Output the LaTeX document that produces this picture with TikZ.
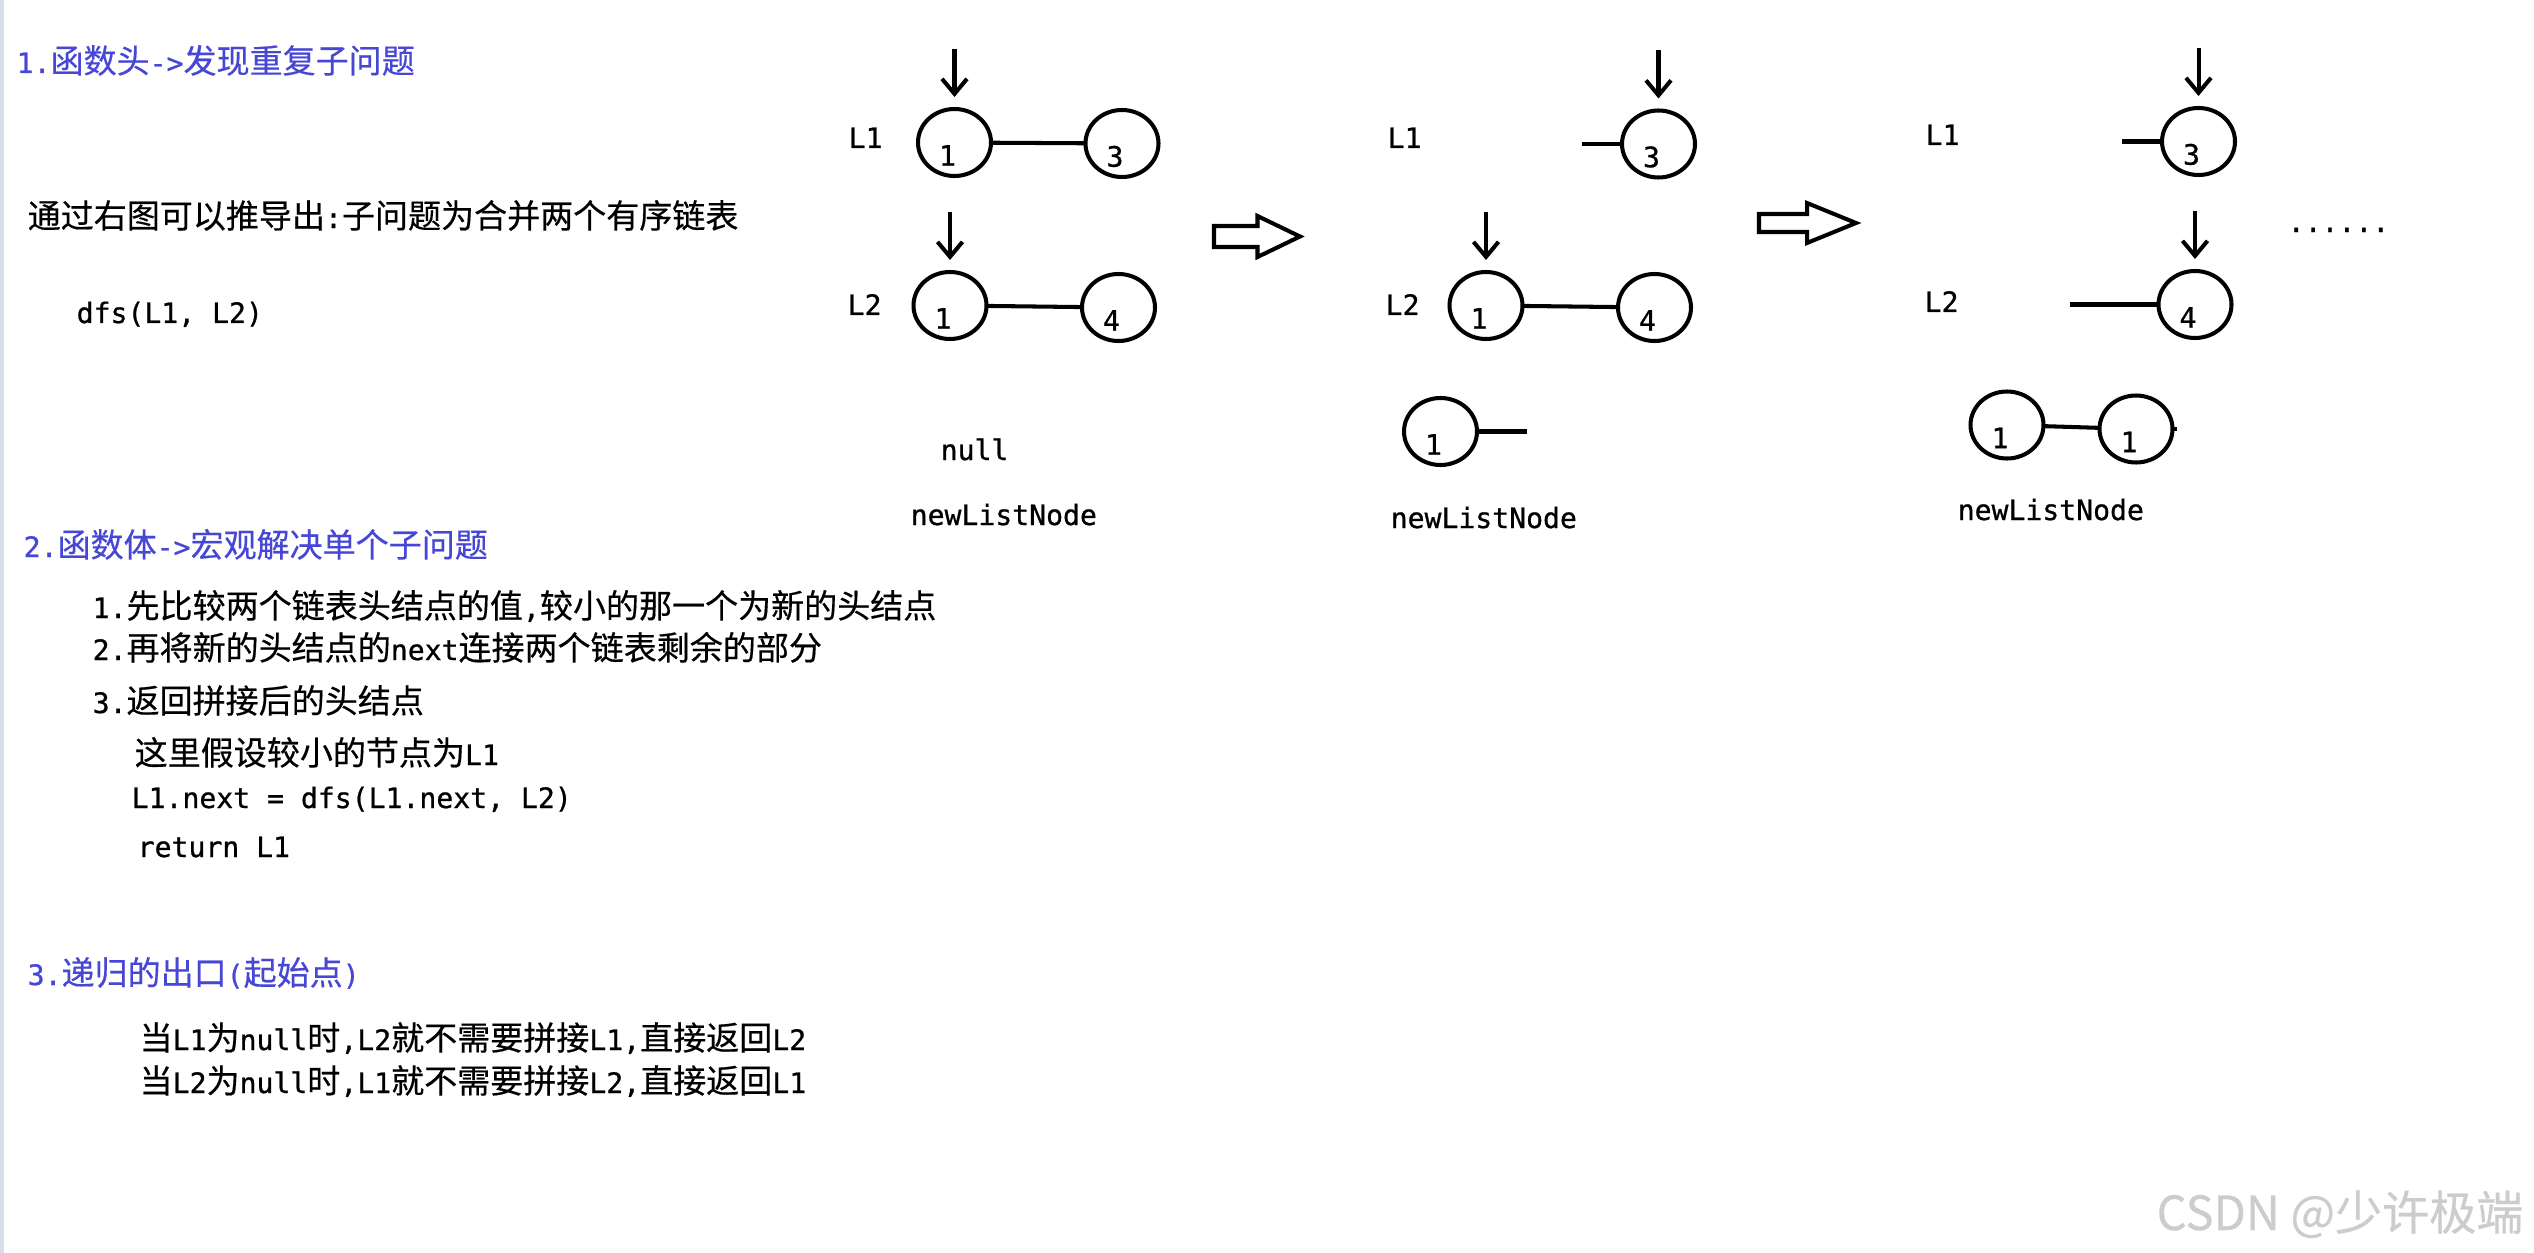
\documentclass[tikz,border=0pt]{standalone}
\usepackage{fontspec}
\usetikzlibrary{positioning,shapes.geometric,arrows.meta}
\newfontfamily\enfont[FakeBold=0.8]{DejaVu Sans Mono}
\newfontfamily\zhfont[Scale=1.175,FakeBold=0.4]{Noto Sans CJK SC}
\newcommand{\zh}[1]{{\zhfont #1}}
\definecolor{titleblue}{RGB}{70,70,215}
\definecolor{stripgray}{RGB}{214,222,236}

\begin{document}
\begin{tikzpicture}[
        font=\enfont\fontsize{8pt}{10pt}\selectfont,
        % Estilos
        txt/.style={anchor=base west, inner sep=0pt},
        title/.style={txt, text=titleblue},
        lnode/.style={
            draw, ellipse,
            line width=1.15pt,
            minimum width=0.73cm,
            minimum height=0.67cm,
            inner sep=0pt, outer sep=0pt
        },
        digit/.style={anchor=base, inner sep=0pt},
        link/.style={line width=1.15pt},
        ptr/.style={
            line width=1.15pt,
            -{Straight Barb[length=0.15cm,width=0.25cm]},
            shorten >=0.12cm
        },
        hollow/.style={line width=1.15pt, line join=miter}
    ]

    % --- FONDO ---
    \fill[white] (0,0) rectangle (25.34,-12.53);
    \useasboundingbox (0,0) rectangle (25.34,-12.53);
    \fill[stripgray] (0,0) rectangle (0.04,-12.53);

    % --- 1. CABECERA DE LA FUNCION ---
    \node[title] (head1) at (0.16,-0.73) {1.\zh{函数头}->\zh{发现重复子问题}};
    \node[txt] (sub) at (0.27,-2.28) {\zh{通过右图可以推导出}:\zh{子问题为合并两个有序链表}};
    \node[txt] (call) at (0.76,-3.23) {dfs(L1, L2)};

    % --- 2. CUERPO DE LA FUNCION ---
    \node[title] (head2) at (0.23,-5.57) {2.\zh{函数体}->\zh{宏观解决单个子问题}};
    \node[txt] (step1) at (0.92,-6.18) {1.\zh{先比较两个链表头结点的值},\zh{较小的那一个为新的头结点}};
    \node[txt] (step2) at (0.92,-6.60) {2.\zh{再将新的头结点的}next\zh{连接两个链表剩余的部分}};
    \node[txt] (step3) at (0.92,-7.13) {3.\zh{返回拼接后的头结点}};
    \node[txt] (code1) at (1.34,-7.65) {\zh{这里假设较小的节点为}L1};
    \node[txt] (code2) at (1.31,-8.08) {L1.next = dfs(L1.next, L2)};
    \node[txt] (code3) at (1.37,-8.57) {return L1};

    % --- 3. SALIDA DE LA RECURSION ---
    \node[title] (head3) at (0.27,-9.85) {3.\zh{递归的出口}(\zh{起始点})};
    \node[txt] (exit1) at (1.39,-10.50) {\zh{当}L1\zh{为}null\zh{时},L2\zh{就不需要拼接}L1,\zh{直接返回}L2};
    \node[txt] (exit2) at (1.39,-10.93) {\zh{当}L2\zh{为}null\zh{时},L1\zh{就不需要拼接}L2,\zh{直接返回}L1};

    % --- NODOS DE LAS LISTAS ---
    \foreach \nm/\x/\y/\val in {
            p1a/9.545/-1.425/1, p1b/11.22/-1.435/3, p1c/9.50/-3.055/1, p1d/11.185/-3.075/4,
            p2b/16.585/-1.44/3, p2c/14.86/-3.055/1, p2d/16.545/-3.075/4, p2e/14.405/-4.315/1,
            p3b/21.985/-1.415/3, p3d/21.95/-3.045/4, p3e/20.07/-4.25/1, p3f/21.36/-4.29/1} {
        \node[lnode] (\nm) at (\x,\y) {};
        \node[digit] (\nm-v) at ([shift={(-0.07,-0.232)}]\nm.center) {\val};
    }

    % Etiquetas L1 / L2
    \node[txt] (p1l1) at (8.48,-1.48) {L1};
    \node[txt] (p1l2) at (8.47,-3.15) {L2};
    \node[txt] (p2l1) at (13.87,-1.48) {L1};
    \node[txt] (p2l2) at (13.85,-3.15) {L2};
    \node[txt] (p3l1) at (19.25,-1.45) {L1};
    \node[txt] (p3l2) at (19.24,-3.12) {L2};

    % Punteros
    \foreach \nm in {p1a,p1c,p2b,p2c,p3b,p3d} {
        \coordinate[above=0.6 of \nm] (\nm-t);
        \draw[ptr] (\nm-t) -- (\nm);
    }

    % Enlaces
    \draw[link] (p1a) -- (p1b);
    \draw[link] (p1c) -- (p1d);
    \draw[link] (p2c) -- (p2d);
    \draw[link] (p3e) -- (p3f);

    % Enlaces sueltos
    \coordinate[left=0.4 of p2b] (p2b-s);
    \coordinate[right=0.5 of p2e] (p2e-s);
    \coordinate[left=0.4 of p3b] (p3b-s);
    \coordinate[left=0.89 of p3d] (p3d-s);
    \coordinate[right=0.04 of p3f] (p3f-s);
    \draw[link] (p2b-s) -- (p2b);
    \draw[link] (p2e) -- (p2e-s);
    \draw[link] (p3b-s) -- (p3b);
    \draw[link] (p3d-s) -- (p3d);
    \draw[link] (p3f) -- (p3f-s);

    % --- NUEVA LISTA ---
    \node[txt] (p1null) at (9.40,-4.60) {null};
    \node[txt] (p1new) at (9.10,-5.25) {newListNode};
    \node[txt] (p2new) at (13.90,-5.28) {newListNode};
    \node[txt] (p3new) at (19.57,-5.20) {newListNode};
    \node[txt] (more) at (22.87,-2.32) {......};

    % --- FLECHAS HUECAS ---
    \draw[hollow] (12.14,-2.26) -- (12.575,-2.26) -- (12.575,-2.16) -- (13.00,-2.365)
        -- (12.575,-2.57) -- (12.575,-2.47) -- (12.14,-2.47) -- cycle;
    \draw[hollow] (17.59,-2.14) -- (18.07,-2.14) -- (18.07,-2.03) -- (18.56,-2.23)
        -- (18.07,-2.43) -- (18.07,-2.32) -- (17.59,-2.32) -- cycle;

    % Marca de agua
    \node[anchor=base east, inner sep=0pt, text=black!20,
        font=\zhfont\fontsize{11.4pt}{13pt}\selectfont] (mark) at (25.24,-12.30) {CSDN @少许极端};

\end{tikzpicture}
\end{document}
